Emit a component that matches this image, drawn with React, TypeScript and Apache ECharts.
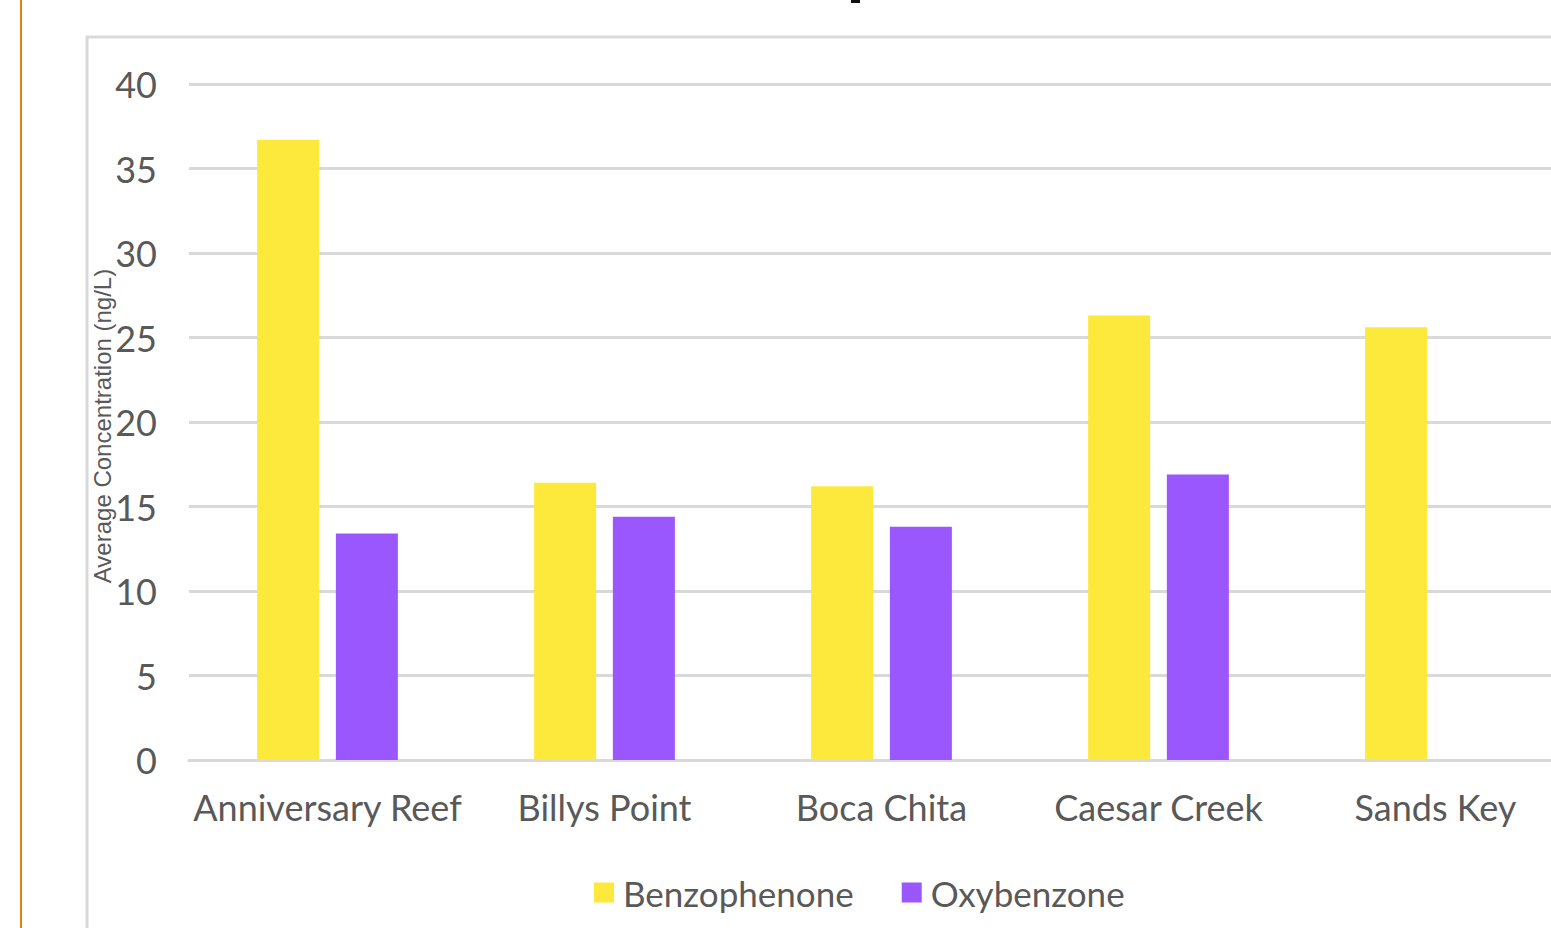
import React, { useEffect, useRef } from "react";
import * as echarts from "echarts";

const categories = ["Anniversary Reef", "Billys Point", "Boca Chita", "Caesar Creek", "Sands Key"];
const benzophenone = [36.7, 16.4, 16.2, 26.3, 25.6];
const oxybenzone = [13.4, 14.4, 13.8, 16.9, 0];
const seriesNames = ["Benzophenone", "Oxybenzone"];
const yAxisName = "Average Concentration (ng/L)";

export default function App() {
  const ref = useRef<HTMLDivElement>(null);
  useEffect(() => {
    document.body.style.margin = "0";
    document.body.style.overflow = "hidden";
    const chart = echarts.init(ref.current!, undefined, { renderer: "svg" });
    const font = "Lato";
    chart.setOption({
      animation: false,
      backgroundColor: "#ffffff",
      textStyle: { fontFamily: font },
      graphic: [
        { type: "line", shape: { x1: 21, y1: 0, x2: 21, y2: 928 }, style: { stroke: "#D4870F", lineWidth: 2 } },
        { type: "rect", shape: { x: 87, y: 37, width: 1600, height: 1000 }, style: { fill: "none", stroke: "#D9D9D9", lineWidth: 3 }, z: -1 },
        { type: "rect", shape: { x: 851, y: 0, width: 9, height: 3 }, style: { fill: "#111111" } },
        {
          type: "text",
          x: 102,
          y: 426,
          rotation: Math.PI / 2,
          style: {
            text: yAxisName,
            font: "24px 'Liberation Sans', Arial, sans-serif",
            fill: "#595959",
            align: "center",
            verticalAlign: "middle",
          },
        },
      ],
      legend: {
        left: 589,
        top: 870,
        itemWidth: 20,
        itemHeight: 20,
        itemGap: 48,
        icon: "rect",
        textStyle: { fontFamily: font, fontSize: 35, color: "#595959", padding: [0, 0, 0, 4] },
        data: seriesNames,
      },
      grid: { left: 189, right: 26, top: 84, bottom: 168, containLabel: false },
      xAxis: {
        type: "category",
        data: categories,
        axisLine: { lineStyle: { color: "#D9D9D9", width: 3 } },
        axisTick: { show: false },
        axisLabel: { color: "#595959", fontSize: 36, fontFamily: font, margin: 29, interval: 0 },
      },
      yAxis: {
        type: "value",
        min: 0,
        max: 40,
        interval: 5,
        axisLine: { show: false },
        axisTick: { show: false },
        splitLine: { lineStyle: { color: "#D9D9D9", width: 3 } },
        axisLabel: { color: "#595959", fontSize: 36, fontFamily: font, margin: 32 },
      },
      series: [
        {
          name: seriesNames[0],
          type: "bar",
          data: benzophenone,
          barWidth: 62,
          barGap: "27%",
          itemStyle: { color: "#FCE93C" },
        },
        {
          name: seriesNames[1],
          type: "bar",
          data: oxybenzone,
          barWidth: 62,
          itemStyle: { color: "#9B57FE" },
        },
      ],
    });
    return () => chart.dispose();
  }, []);
  return <div ref={ref} style={{ position: "absolute", left: 0, top: 0, width: 1600, height: 928 }} />;
}
